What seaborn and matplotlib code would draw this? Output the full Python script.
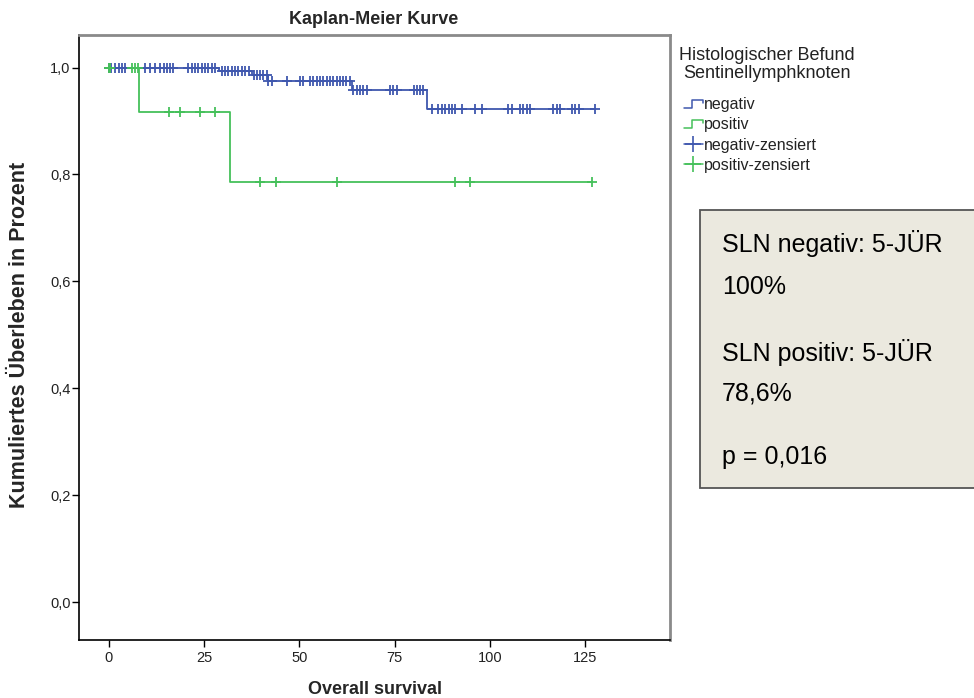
import numpy as np
import pandas as pd
import matplotlib
matplotlib.use("Agg")
import matplotlib.pyplot as plt
from matplotlib.lines import Line2D
from matplotlib.legend_handler import HandlerBase
from matplotlib.patches import Rectangle
import seaborn as sns

# ---------------- data ----------------
groups = ["negativ", "positiv"]
neg_event_times = [29.0, 37.6, 41.8, 63.8, 83.5]
neg_event_surv = [0.994, 0.986, 0.975, 0.958, 0.923]
neg_censor_times = [0.0, 0.5, 1.7, 2.6, 3.4, 4.3, 9.6, 10.9, 12.2, 13.5, 14.4, 15.2, 16.1, 17.0,
                    20.9, 21.8, 22.7, 23.5, 24.4, 25.3, 26.1, 27.0, 27.9,
                    29.7, 30.6, 31.4, 32.3, 33.2, 34.0, 34.9, 35.8, 36.7,
                    38.0, 38.9, 39.8, 40.6, 41.5, 41.9, 42.8, 46.7, 50.2, 51.1,
                    52.9, 53.7, 54.6, 55.5, 56.3, 57.2, 58.1, 58.9, 59.8, 60.7, 61.6, 62.4, 63.3,
                    64.2, 65.1, 66.0, 66.8, 67.7, 73.9, 74.7, 75.6, 80.0, 80.9, 81.7, 82.6,
                    84.8, 86.5, 87.4, 88.3, 89.2, 90.1, 90.9, 92.7, 96.2, 97.9,
                    104.9, 105.8, 108.0, 108.8, 109.7, 110.6, 116.7, 117.6, 118.5,
                    121.5, 122.4, 123.3, 127.7]
pos_event_times = [8.0, 31.9]
pos_event_surv = [0.9167, 0.7857]
pos_censor_times = [0.0, 0.4, 6.0, 6.9, 7.6, 15.7, 18.7, 24.0, 28.0,
                    39.7, 43.9, 59.9, 90.9, 94.9, 126.8]

x_ticks = [0, 25, 50, 75, 100, 125]
y_ticks = [0.0, 0.2, 0.4, 0.6, 0.8, 1.0]
y_tick_labels = ["0,0", "0,2", "0,4", "0,6", "0,8", "1,0"]

title = "Kaplan-Meier Kurve"
x_label = "Overall survival"
y_label = "Kumuliertes Überleben in Prozent"
legend_title = "Histologischer Befund\nSentinellymphknoten"
legend_labels = ["negativ", "positiv", "negativ-zensiert", "positiv-zensiert"]
box_lines = ["SLN negativ: 5-JÜR", "100%", "SLN positiv: 5-JÜR", "78,6%", "p = 0,016"]

colors = {"negativ": "#3f57ae", "positiv": "#45c05a"}

# ---------------- build frames ----------------
def step_frame(group, ev_t, ev_s, cens_t):
    end = max(cens_t + ev_t)
    t = [0.0] + list(ev_t) + [end]
    s = [1.0] + list(ev_s) + [ev_s[-1]]
    return pd.DataFrame({"time": t, "surv": s, "group": group})

def censor_frame(group, ev_t, ev_s, cens_t):
    ev_t = np.asarray(ev_t)
    levels = np.concatenate([[1.0], ev_s])
    idx = np.searchsorted(ev_t, np.asarray(cens_t), side="right")
    return pd.DataFrame({"time": cens_t, "surv": levels[idx], "group": group})

steps = pd.concat([step_frame("negativ", neg_event_times, neg_event_surv, neg_censor_times),
                   step_frame("positiv", pos_event_times, pos_event_surv, pos_censor_times)])
cens = pd.concat([censor_frame("negativ", neg_event_times, neg_event_surv, neg_censor_times),
                  censor_frame("positiv", pos_event_times, pos_event_surv, pos_censor_times)])

# ---------------- plot ----------------
sns.set_style("white")
plt.rcParams["font.family"] = ["Liberation Sans", "DejaVu Sans"]

fig = plt.figure(figsize=(9.74, 6.98), dpi=100)
ax = fig.add_axes([0.0811, 0.0831, 0.6068, 0.8668])

for g in groups:
    d = steps[steps.group == g]
    sns.lineplot(data=d, x="time", y="surv", ax=ax, color=colors[g], drawstyle="steps-post",
                 estimator=None, sort=False, linewidth=1.3, legend=False)
for g in groups:
    d = cens[cens.group == g]
    sns.scatterplot(data=d, x="time", y="surv", ax=ax, color=colors[g], marker="+",
                    s=60, linewidth=1.3, legend=False, zorder=3)

ax.set_xlim(-7.8, 147.3)
ax.set_ylim(-0.071, 1.061)
ax.set_xticks(x_ticks)
ax.set_xticklabels([str(v) for v in x_ticks])
ax.set_yticks(y_ticks)
ax.set_yticklabels(y_tick_labels)
ax.tick_params(axis="both", direction="out", length=5, width=1.0, labelsize=10.5,
               colors="black", labelcolor="#222222", left=True, bottom=True)
ax.tick_params(axis="y", pad=1)
ax.tick_params(axis="x", pad=3)

for side in ["left", "bottom"]:
    ax.spines[side].set_color("black")
    ax.spines[side].set_linewidth(1.2)
for side in ["top", "right"]:
    ax.spines[side].set_color("#8a8a8a")
    ax.spines[side].set_linewidth(2.0)

ax.set_xlabel(x_label, fontsize=13, fontweight="bold")
ax.xaxis.set_label_coords(0.5, -0.067)
ax.set_ylabel(y_label, fontsize=15.5, fontweight="bold")
ax.yaxis.set_label_coords(-0.083, 0.505)

fig.text(374 / 974, 1 - 19 / 698, title, ha="center", va="center", fontsize=13,
         fontweight="bold")

# ---------------- legend ----------------
class StepHandler(HandlerBase):
    def create_artists(self, legend, orig_handle, xdescent, ydescent, width, height, fontsize, trans):
        x0 = -xdescent
        y0 = -ydescent
        xs = [x0, x0 + width * 0.45, x0 + width * 0.45, x0 + width, x0 + width]
        ys = [y0 + height * 0.15, y0 + height * 0.15, y0 + height * 0.85, y0 + height * 0.85,
              y0 + height * 0.55]
        ln = Line2D(xs, ys, color=orig_handle.get_color(), linewidth=1.1, transform=trans)
        return [ln]

fig.text(767 / 974, 1 - 64.5 / 698, legend_title, ha="center", va="center", fontsize=13,
         color="#222222", linespacing=1.05)

h_neg = Line2D([], [], color=colors["negativ"])
h_pos = Line2D([], [], color=colors["positiv"])
h_negc = Line2D([], [], color=colors["negativ"], marker="+", markersize=11, linewidth=1.1,
                markeredgewidth=1.2)
h_posc = Line2D([], [], color=colors["positiv"], marker="+", markersize=11, linewidth=1.1,
                markeredgewidth=1.2)
leg = fig.legend([h_neg, h_pos, h_negc, h_posc], legend_labels,
                 loc="upper left", bbox_to_anchor=(681 / 974, 1 - 94 / 698),
                 frameon=False, fontsize=11.5,
                 handlelength=1.15, handletextpad=0.1, labelspacing=0.33,
                 borderpad=0.2, borderaxespad=0,
                 handler_map={h_neg: StepHandler(), h_pos: StepHandler()})
for t in leg.get_texts():
    t.set_color("#222222")

# ---------------- text box ----------------
box = Rectangle((700 / 974, 1 - 488 / 698), (990 - 700) / 974, (488 - 210) / 698,
                transform=fig.transFigure, facecolor="#ebe9df", edgecolor="#555555",
                linewidth=1.3, zorder=0)
fig.patches.append(box)
box_y = [243, 287, 352, 394, 457]
for txt, yy in zip(box_lines, box_y):
    fig.text(722 / 974, 1 - yy / 698, txt, ha="left", va="center", fontsize=18,
             color="black", zorder=2)

fig.savefig("out.png", dpi=100)
